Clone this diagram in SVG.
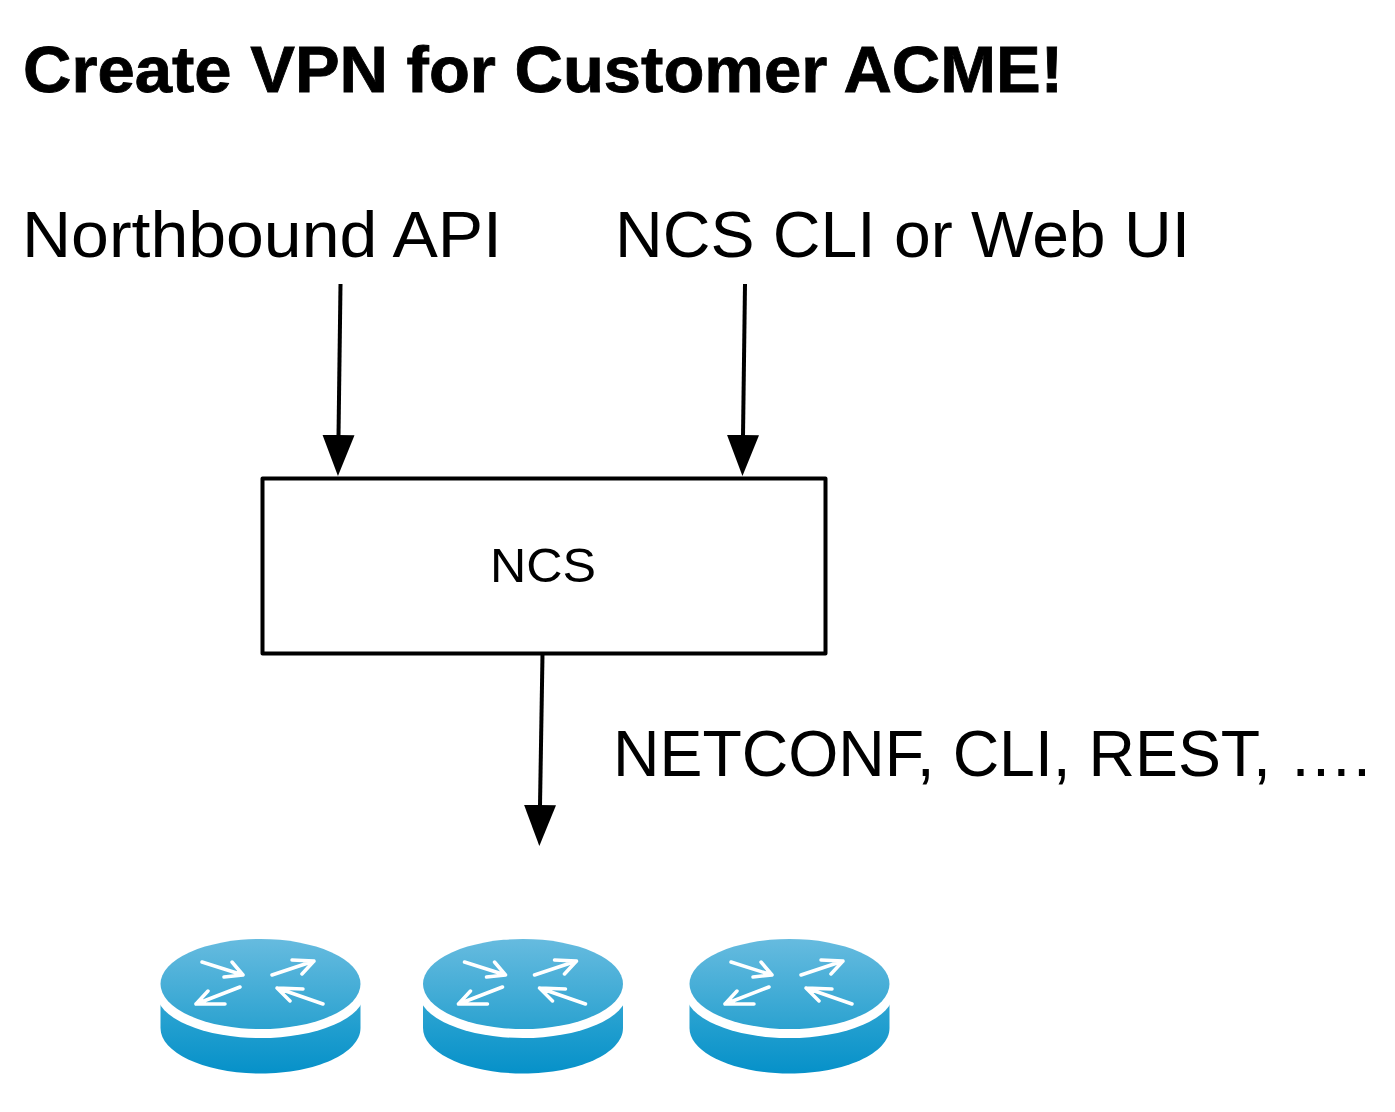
<svg xmlns="http://www.w3.org/2000/svg" width="1395" height="1112" viewBox="0 0 1395 1112">
<style>
text{font-family:"Liberation Sans",Arial,sans-serif;fill:#000}
.t{font-size:64px}
.a{stroke:#fff;stroke-width:3.500;fill:none;stroke-linecap:round;stroke-linejoin:round}
.c{stroke:#000;stroke-width:4;fill:none}
</style>
<defs>
<linearGradient id="g1" x1="0" y1="0" x2="0" y2="1"><stop offset="0" stop-color="#66bbdf"/><stop offset="1" stop-color="#2ba2d0"/></linearGradient>
<linearGradient id="g2" x1="0" y1="0" x2="0" y2="1"><stop offset="0" stop-color="#2fa5d2"/><stop offset="1" stop-color="#0691c9"/></linearGradient>
<marker id="h" markerUnits="userSpaceOnUse" markerWidth="42" markerHeight="34" refX="1" refY="17" orient="auto"><path d="M0 1L41 17L0 33Z" fill="#000"/></marker>
<g id="r">
<path d="M160.500 1002V1028C160.500 1053 205 1073.500 260.500 1073.500C316 1073.500 360.500 1053 360.500 1028V1002Z" fill="url(#g2)"/>
<ellipse cx="260.500" cy="993" rx="104" ry="45" fill="#fff"/>
<ellipse cx="260.500" cy="984" rx="100" ry="45" fill="url(#g1)"/>
<path class="a" d="M202 962L243 975M232 962L243 975L224 977M272 975L314 961M292 960L314 961L302 974M240 987L196 1004M208 991L196 1004L225 1004M323 1004L277 988M303 989L277 988L290 1001"/>
</g>
</defs>
<text id="title" x="23" y="92" font-size="64" font-weight="700" stroke="#000" stroke-width="0.800" textLength="1040" lengthAdjust="spacingAndGlyphs">Create VPN for Customer ACME!</text>
<g id="label-northbound"><text class="t" x="22" y="257" textLength="480" lengthAdjust="spacingAndGlyphs">Northbound API</text></g>
<g id="label-cli"><text class="t" x="615" y="257" textLength="575" lengthAdjust="spacingAndGlyphs">NCS CLI or Web UI</text></g>
<g id="label-protocols"><text class="t" x="613" y="776" textLength="758" lengthAdjust="spacingAndGlyphs">NETCONF, CLI, REST, ….</text></g>
<g id="ncs"><rect x="262.500" y="478.500" width="563" height="175" fill="#fff" stroke="#000" stroke-width="4" stroke-linejoin="round"/><text x="490" y="582" font-size="48" textLength="106" lengthAdjust="spacingAndGlyphs">NCS</text></g>
<g id="connectors">
<path class="c" d="M340.500 284L338.500 436" marker-end="url(#h)"/>
<path class="c" d="M745 284L743 436" marker-end="url(#h)"/>
<path class="c" d="M542.500 654L540 806" marker-end="url(#h)"/>
</g>
<g id="router-1"><use href="#r"/></g>
<g id="router-2"><use href="#r" x="262.500"/></g>
<g id="router-3"><use href="#r" x="529"/></g>
</svg>
